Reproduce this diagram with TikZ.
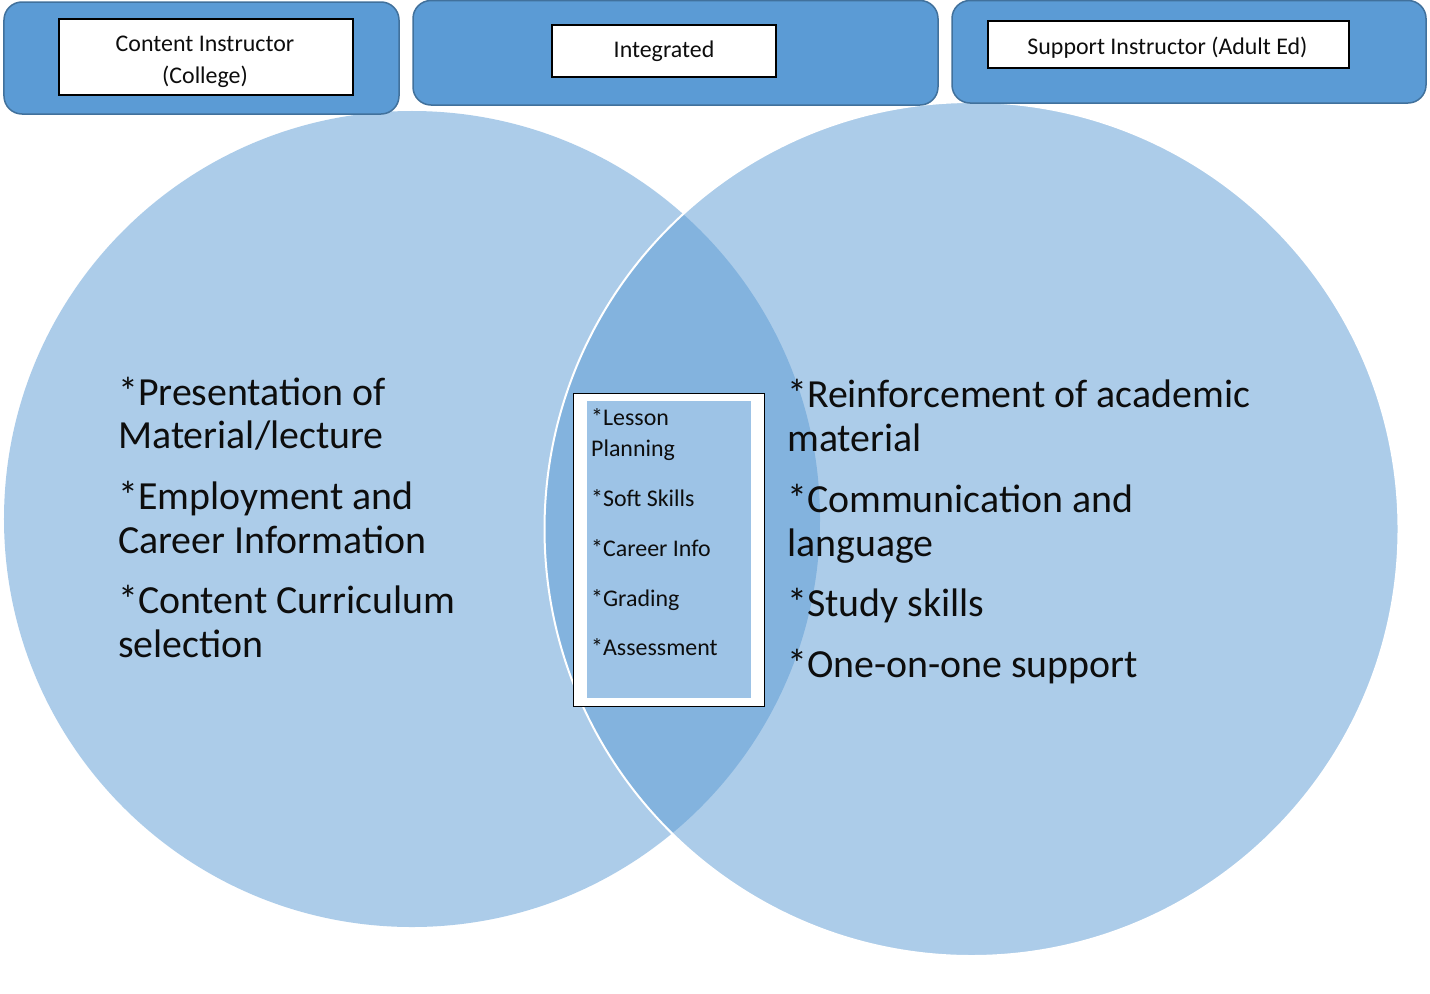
\documentclass[tikz,border=0pt]{standalone}
\usepackage{fontspec}
\setmainfont{Carlito}
\definecolor{headfill}{HTML}{5B9BD5}
\definecolor{headdraw}{HTML}{41719C}
\definecolor{venn}{HTML}{5B9BD5}
\definecolor{midfill}{HTML}{9DC3E6}
\definecolor{ink}{HTML}{0D0D0D}
\begin{document}
\begin{tikzpicture}[x=1bp,y=-1bp,
  header/.style={draw=headdraw,line width=1.5bp,fill=headfill,rounded corners=18bp,inner sep=0},
  labelbox/.style={draw=black,line width=1.2bp,fill=white,inner sep=0},
  big/.style={font=\fontsize{40}{44}\selectfont,text=ink,anchor=base west,inner sep=0},
  small/.style={font=\fontsize{24}{28}\selectfont,text=ink,anchor=base west,inner sep=0},
  headtext/.style={font=\fontsize{24}{28}\selectfont,text=ink,anchor=base,inner sep=0}]
\fill[white] (0,0) rectangle (1430,993);
\useasboundingbox (0,0) rectangle (1430,993);
% Venn circles
\fill[venn,opacity=.5] (412,519) circle[radius=408bp];
\draw[white,line width=2bp,fill=venn,fill opacity=.5] (971.5,529) circle[radius=427bp];
% header boxes
\node[header,minimum width=395bp,minimum height=112bp] (hl) at (201.5,58) {};
\node[header,minimum width=525bp,minimum height=104.5bp] (hm) at (675.5,52.75) {};
\node[header,minimum width=474bp,minimum height=102.5bp] (hr) at (1189,51.75) {};
\node[labelbox,minimum width=294bp,minimum height=76bp] (bl) at (206,57) {};
\node[labelbox,minimum width=224bp,minimum height=52bp] (bm) at (664,51) {};
\node[labelbox,minimum width=361bp,minimum height=47bp] (br) at (1168.5,44.5) {};
\node[headtext] (tl1) at (205,51) {Content Instructor};
\node[headtext] (tl2) at (205,83) {(College)};
\node[headtext] (tm) at (664,57) {Integrated};
\node[headtext] (tr) at (1167.5,54) {Support Instructor (Adult Ed)};
% left circle text
\node[big] (l1) at (118,405) {*Presentation of};
\node[big] (l2) at (118,448) {Material/lecture};
\node[big] (l3) at (118,509) {*Employment and};
\node[big] (l4) at (118,553) {Career Information};
\node[big] (l5) at (118,613) {*Content Curriculum};
\node[big] (l6) at (118,657) {selection};
% right circle text
\node[big] (r1) at (787,407) {*Reinforcement of academic};
\node[big] (r2) at (787,451) {material};
\node[big] (r3) at (787,512) {*Communication and};
\node[big] (r4) at (787,556) {language};
\node[big] (r5) at (787,616) {*Study skills};
\node[big] (r6) at (787,677) {*One-on-one support};
% center box
\node[draw=black,line width=1bp,fill=white,inner sep=0,minimum width=191bp,minimum height=313bp] (cb) at (668.5,549.5) {};
\node[fill=midfill,inner sep=0,minimum width=164bp,minimum height=297bp] (ci) at (669,549.5) {};
\node[small] (c1) at (591,425) {*Lesson};
\node[small] (c2) at (591,456) {Planning};
\node[small] (c3) at (591,506) {*Soft Skills};
\node[small] (c4) at (591,556) {*Career Info};
\node[small] (c5) at (591,606) {*Grading};
\node[small] (c6) at (591,655) {*Assessment};
\end{tikzpicture}
\end{document}
